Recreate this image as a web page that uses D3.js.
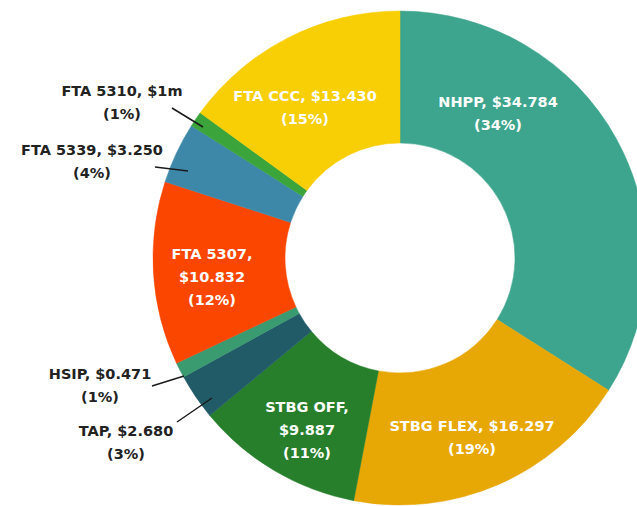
<!DOCTYPE html>
<html lang="en">
  <head>
    <meta charset="utf-8" />
    <title>Funding by program</title>
    <style>
      body {
        margin: 0;
        background: #fff;
        overflow: hidden;
      }
      svg {
        display: block;
      }
      text {
        font-family: 'DejaVu Sans', sans-serif;
        font-weight: bold;
        font-size: 14.5px;
      }
    </style>
  </head>
  <body>
    <div class="container"></div>
    <script src="https://cdn.jsdelivr.net/npm/d3@7"></script>
    <script>
      // Data (clockwise from 12 o'clock)
      const programs = ['NHPP', 'STBG FLEX', 'STBG OFF', 'TAP', 'HSIP', 'FTA 5307', 'FTA 5339', 'FTA 5310', 'FTA CCC'];
      const amounts = ['$34.784', '$16.297', '$9.887', '$2.680', '$0.471', '$10.832', '$3.250', '$1m', '$13.430'];
      const shares = [34, 19, 11, 3, 1, 12, 4, 1, 15];

      const colors = ['#3da48d', '#e7a704', '#277f2c', '#225b68', '#3a9a70', '#fb4600', '#3d88a8', '#3ba43a', '#f8ce05'];

      const width = 637;
      const height = 506;
      const cx = 400;
      const cy = 258;
      const outerR = 247;
      const innerR = 115;

      // label placement (annotation layout, not data)
      const inside = {
        NHPP: { x: 498, y: 103, lines: 'two' },
        'STBG FLEX': { x: 472, y: 427, lines: 'two' },
        'STBG OFF': { x: 307, y: 408, lines: 'three' },
        'FTA 5307': { x: 212, y: 255, lines: 'three' },
        'FTA CCC': { x: 305, y: 97, lines: 'two' },
      };
      const outside = {
        'FTA 5310': { x: 122, y: 92, from: [172, 108], to: [203, 127] },
        'FTA 5339': { x: 92, y: 151, from: [155, 167], to: [188, 171] },
        HSIP: { x: 100, y: 375, from: [152, 386], to: [184, 376] },
        TAP: { x: 126, y: 432, from: [177, 422], to: [212, 398] },
      };

      const rows = programs.map((p, i) => ({
        name: p,
        amount: amounts[i],
        share: shares[i],
        color: colors[i],
      }));

      const svg = d3
        .select('div.container')
        .append('svg')
        .attr('width', width)
        .attr('height', height);

      svg.append('rect').attr('width', width).attr('height', height).attr('fill', '#fff');

      const pie = d3
        .pie()
        .sort(null)
        .value((d) => d.share);
      const arc = d3.arc().innerRadius(innerR).outerRadius(outerR);

      const g = svg.append('g').attr('transform', `translate(${cx},${cy})`);
      g.selectAll('path')
        .data(pie(rows))
        .join('path')
        .attr('d', arc)
        .attr('fill', (d) => d.data.color)
        .attr('stroke', (d) => d.data.color)
        .attr('stroke-width', 0.5);

      const lh = 23;

      // labels inside slices
      rows.forEach((d) => {
        const pos = inside[d.name];
        if (!pos) return;
        let lines;
        if (pos.lines === 'three') lines = [d.name + ',', d.amount, `(${d.share}%)`];
        else lines = [`${d.name}, ${d.amount}`, `(${d.share}%)`];
        const t = svg
          .append('text')
          .attr('text-anchor', 'middle')
          .attr('dominant-baseline', 'middle')
          .attr('fill', '#fff');
        lines.forEach((l, i) => {
          t.append('tspan').attr('x', pos.x).attr('y', pos.y + i * lh).text(l);
        });
      });

      // labels outside with leader lines
      rows.forEach((d) => {
        const pos = outside[d.name];
        if (!pos) return;
        svg
          .append('line')
          .attr('x1', pos.from[0])
          .attr('y1', pos.from[1])
          .attr('x2', pos.to[0])
          .attr('y2', pos.to[1])
          .attr('stroke', '#1a1a1a')
          .attr('stroke-width', 1.5);
        const t = svg
          .append('text')
          .attr('text-anchor', 'middle')
          .attr('dominant-baseline', 'middle')
          .attr('fill', '#222');
        [`${d.name}, ${d.amount}`, `(${d.share}%)`].forEach((l, i) => {
          t.append('tspan').attr('x', pos.x).attr('y', pos.y + i * lh).text(l);
        });
      });
    </script>
  </body>
</html>
